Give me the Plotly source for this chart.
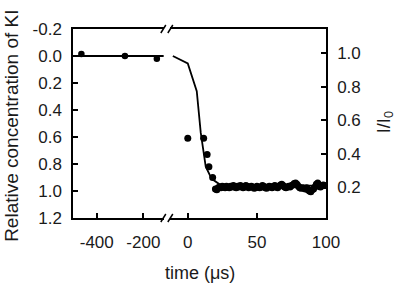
import plotly.graph_objects as go

# ---- data ----
# left (pre-trigger) segment
pre_t = [-466, -279, -142]
pre_c = [-0.015, 0.0, 0.02]
pre_fit_t = [-502, -112]
pre_fit_c = [0.0, 0.0]

# right (post-trigger) segment: transition points
trans_t = [0, 11.5, 14, 15.3, 18]
trans_c = [0.61, 0.61, 0.73, 0.82, 0.90]

# baseline points after the jump
base_t = list(range(20, 100))
base_c = [0.985, 0.99, 0.975, 0.97, 0.975, 0.965, 0.97, 0.975, 0.965, 0.97,
          0.975, 0.965, 0.97, 0.96, 0.97, 0.975, 0.965, 0.97, 0.96, 0.965,
          0.975, 0.97, 0.96, 0.965, 0.975, 0.97, 0.965, 0.97, 0.98, 0.975,
          0.965, 0.97, 0.975, 0.97, 0.96, 0.965, 0.975, 0.98, 0.97, 0.965,
          0.97, 0.975, 0.965, 0.96, 0.97, 0.975, 0.965, 0.955, 0.95, 0.96,
          0.97, 0.975, 0.97, 0.965, 0.97, 0.96, 0.955, 0.945, 0.94, 0.95,
          0.965, 0.975, 0.98, 0.975, 0.98, 0.985, 0.975, 0.99, 1.0, 1.005,
          0.99, 0.985, 0.97, 0.95, 0.94, 0.955, 0.97, 0.96, 0.955, 0.96]

# fitted curve in right segment
fit_t = [-10.8, 0, 6.5, 9.4, 13, 17.3, 23, 35, 100]
fit_c = [0.0, 0.055, 0.26, 0.57, 0.82, 0.91, 0.95, 0.96, 0.96]

left_ticks = [-400, -200]
left_tick_text = ["-400", "-200"]
right_ticks = [0, 50, 100]
right_tick_text = ["0", "50", "100"]
y_ticks = [-0.2, 0.0, 0.2, 0.4, 0.6, 0.8, 1.0, 1.2]
y_tick_text = ["-0.2", "0.0", "0.2", "0.4", "0.6", "0.8", "1.0", "1.2"]
y2_ticks = [0.2, 0.4, 0.6, 0.8, 1.0]
y2_tick_text = ["0.2", "0.4", "0.6", "0.8", "1.0"]

# ---- layout geometry (pixels) ----
L, R, T, B = 73, 326.5, 29, 218.5
W, H = R - L, B - T
def px(x):
    return (x - L) / W
def py(y):
    return (B - y) / H

FONT = "Liberation Sans, Arial, sans-serif"
TXT = "#1a1a1a"

fig = go.Figure()
fig.add_trace(go.Scatter(x=pre_fit_t, y=pre_fit_c, mode="lines",
                         line=dict(color="black", width=1.8),
                         xaxis="x", yaxis="y", showlegend=False))
fig.add_trace(go.Scatter(x=pre_t, y=pre_c, mode="markers",
                         marker=dict(color="black", size=6.5),
                         xaxis="x", yaxis="y", showlegend=False))
fig.add_trace(go.Scatter(x=fit_t, y=fit_c, mode="lines",
                         line=dict(color="black", width=1.8),
                         xaxis="x2", yaxis="y", showlegend=False))
fig.add_trace(go.Scatter(x=trans_t + base_t, y=trans_c + base_c, mode="markers",
                         marker=dict(color="black", size=7),
                         xaxis="x2", yaxis="y", showlegend=False))
fig.add_trace(go.Scatter(x=[50], y=[None], mode="markers",
                         xaxis="x2", yaxis="y2", showlegend=False, hoverinfo="skip"))

d1 = px(164)
d2 = px(170)

axis_common = dict(showline=True, linecolor="black", linewidth=1.5,
                   ticks="inside", ticklen=5, tickwidth=1.5, tickcolor="black",
                   showgrid=False, zeroline=False,
                   tickfont=dict(family=FONT, size=17, color=TXT))

fig.update_layout(
    width=400, height=286,
    margin=dict(l=L, r=400 - R, t=T, b=286 - B),
    paper_bgcolor="white", plot_bgcolor="white",
    xaxis=dict(domain=[0, d1], range=[-502, -112], tickvals=left_ticks,
               ticktext=left_tick_text,
               anchor="y", mirror=True, ticklabelstandoff=8, **axis_common),
    xaxis2=dict(domain=[d2, 1], range=[-13, 100], tickvals=right_ticks,
                ticktext=right_tick_text,
                anchor="y", mirror=True, ticklabelstandoff=8, **axis_common),
    yaxis=dict(range=[1.2, -0.2], tickvals=y_ticks, ticktext=y_tick_text,
               anchor="x", ticklabelstandoff=6, **axis_common),
    yaxis2=dict(range=[0.017, 1.145], tickvals=y2_ticks, ticktext=y2_tick_text,
                overlaying="y", side="right", anchor="x2",
                ticklabelstandoff=6, **axis_common),
)

# break marks on the x axis (bottom and top)
shapes = []
for ybase in (B, T):
    for x0 in (161, 168):
        shapes.append(dict(type="line", xref="paper", yref="paper",
                           x0=px(x0), y0=py(ybase + 4), x1=px(x0 + 5), y1=py(ybase - 4),
                           line=dict(color="black", width=1.5)))
fig.update_layout(shapes=shapes)

fig.add_annotation(text="time (\u03bcs)", xref="paper", yref="paper",
                   x=0.5, y=py(274), xanchor="center", yanchor="middle",
                   showarrow=False, font=dict(family=FONT, size=18, color=TXT))
fig.add_annotation(text="Relative concentration of KI", xref="paper", yref="paper",
                   x=px(12), y=py(126), xanchor="center", yanchor="middle",
                   textangle=-90, showarrow=False,
                   font=dict(family=FONT, size=19, color=TXT))
fig.add_annotation(text="I/I<sub>0</sub>", xref="paper", yref="paper",
                   x=px(386), y=py(122), xanchor="center", yanchor="middle",
                   textangle=-90, showarrow=False,
                   font=dict(family=FONT, size=18, color=TXT))

fig.write_html("out.html", config={"displayModeBar": False},
               post_script="document.body.style.margin='0';document.body.style.padding='0';")
